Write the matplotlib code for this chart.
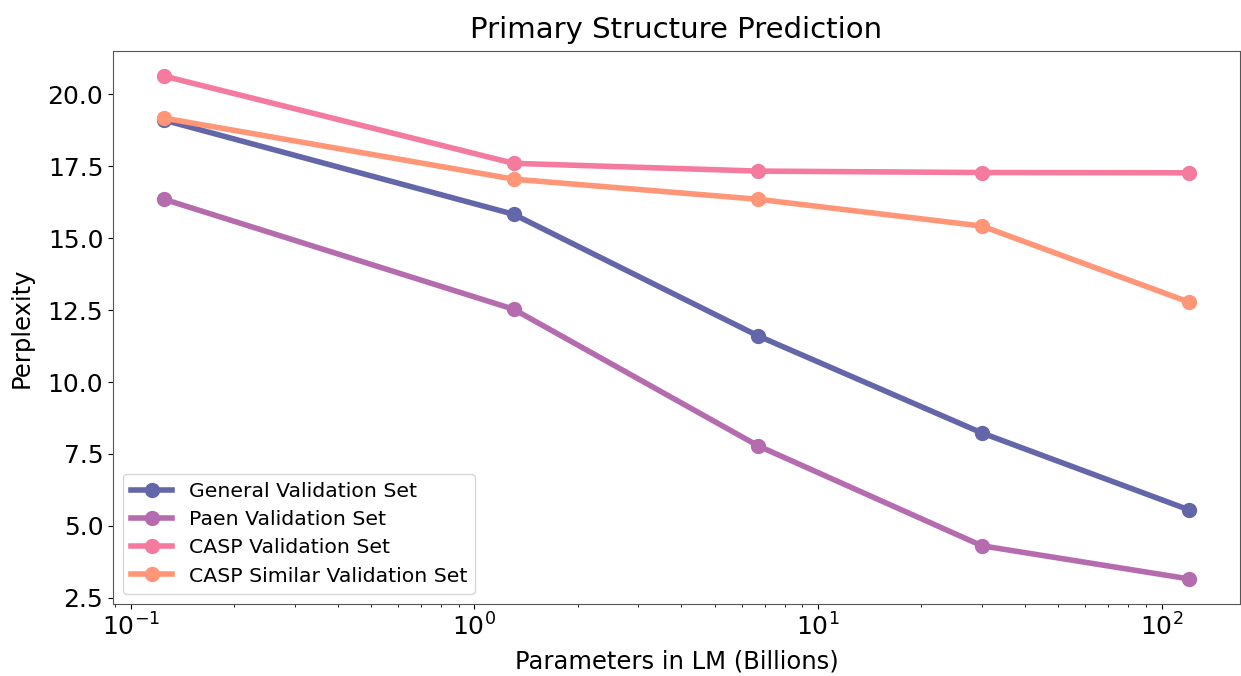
import matplotlib
matplotlib.use('Agg')
import matplotlib.pyplot as plt

# model sizes (billions of parameters)
params = [0.125, 1.3, 6.7, 30, 120]

general = [19.1, 15.83, 11.6, 8.23, 5.56]
paen = [16.35, 12.53, 7.78, 4.31, 3.16]
casp = [20.63, 17.6, 17.33, 17.28, 17.27]
casp_similar = [19.17, 17.05, 16.35, 15.42, 12.78]

labels = ['General Validation Set', 'Paen Validation Set',
          'CASP Validation Set', 'CASP Similar Validation Set']
colors = ['#6466aa', '#b56caf', '#f47a9e', '#ff9677']

fig = plt.figure(figsize=(12.41, 6.76), dpi=100)
ax = fig.add_axes([113/1241, 72/676, 1127/1241, 553/676])

for ys, lab, c in zip([general, paen, casp, casp_similar], labels, colors):
    ax.plot(params, ys, '-o', color=c, lw=4, ms=10, label=lab)

ax.set_xscale('log')
ax.set_title('Primary Structure Prediction', fontsize=21, pad=9)
ax.set_xlabel('Parameters in LM (Billions)', fontsize=17.5, labelpad=6)
ax.set_ylabel('Perplexity', fontsize=17.5, labelpad=10)
ax.tick_params(axis='both', which='major', labelsize=18)
for s in ax.spines.values():
    s.set_color('#555555')
ax.legend(loc='lower left', fontsize=14.7, handlelength=2, labelspacing=0.45)

fig.savefig('out.png', dpi=100)
